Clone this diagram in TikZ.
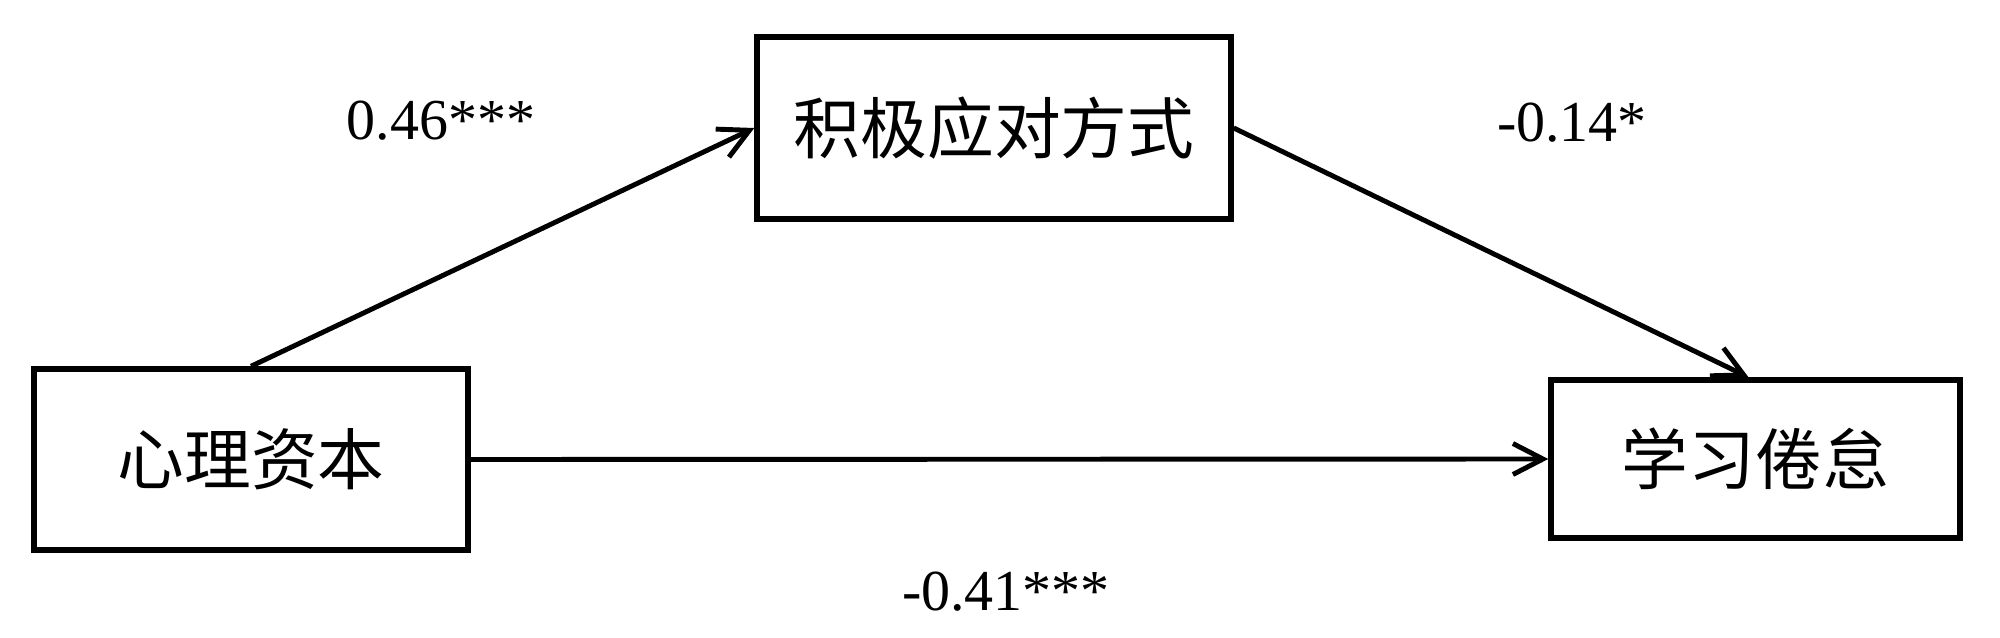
\documentclass[tikz,border=0pt]{standalone}
\usepackage{fontspec}
\setmainfont{Liberation Serif}
\newfontfamily\cjk{Noto Sans CJK SC}
\usetikzlibrary{arrows.meta}
\begin{document}
\begin{tikzpicture}[x=0.02cm,y=-0.02cm,
  box/.style={draw,line width=3.1pt,inner sep=0pt,font=\cjk\fontsize{38}{44}\selectfont},
  link/.style={line width=2.8pt,-{Straight Barb[length=0.6cm,width=0.62cm]}},
  coef/.style={anchor=base,inner sep=0pt,font=\fontsize{33}{38}\selectfont}]
\useasboundingbox (0,0) rectangle (2000,638);
\node[box,minimum width=434*0.02cm,minimum height=181*0.02cm] (b1) at (251,459.5) {心理资本};
\node[box,minimum width=474*0.02cm,minimum height=182*0.02cm] (b2) at (994,128) {积极应对方式};
\node[box,minimum width=409*0.02cm,minimum height=158*0.02cm] (b3) at (1755.5,459) {学习倦怠};
\draw[link] (b1.north) -- (b2.west);
\draw[link] (b2.east) -- ([xshift=-0.14cm]b3.north);
\draw[link] (b1.east) -- (b3.west);
\node[coef] (c1) at (441,140) {0.46***};
\node[coef] (c2) at (1572,142) {-0.14*};
\node[coef] (c3) at (1006,610) {-0.41***};
\end{tikzpicture}
\end{document}
